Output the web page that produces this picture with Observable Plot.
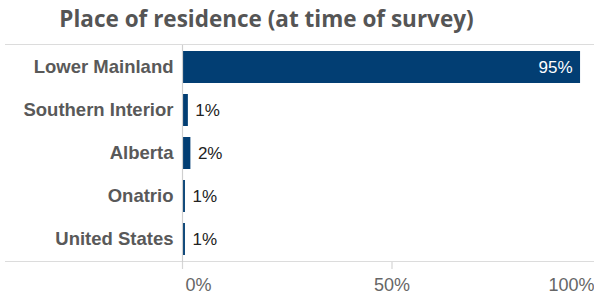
<!DOCTYPE html>
<html>
<head>
<meta charset="utf-8">
<script src="https://cdn.jsdelivr.net/npm/d3@7"></script>
<script src="https://cdn.jsdelivr.net/npm/@observablehq/plot@0.6"></script>
<style>
  html, body { margin: 0; padding: 0; background: white; }
  #wrap { position: relative; width: 594px; height: 295px; overflow: hidden; }
  #title { position: absolute; left: 0; width: 533px; text-align: center;
    font-family: "Open Sans", sans-serif; font-weight: 700; font-size: 22.5px; color: #555;
    line-height: 36px; top: 1px; }
  #lines { position: absolute; left: 5px; top: 44px; width: 589px; height: 216px;
    border-top: 1px solid #dcdcdc; border-bottom: 1px solid #dcdcdc; }
  #chart { position: absolute; left: 0; top: 45px; }
</style>
</head>
<body>
<div id="wrap">
  <div id="title">Place of residence (at time of survey)</div>
  <div id="lines"></div>
  <div id="chart"></div>
</div>
<script>
const categories = ["Lower Mainland", "Southern Interior", "Alberta", "Onatrio", "United States"];
const shares = [95, 1.4, 2, 0.7, 0.7];
const tickValues = [0, 50, 100];
const tickLabels = ["0%", "50%", "100%"];

const data = categories.map((c, i) => ({category: c, value: shares[i], label: Math.round(shares[i]) + "%"}));
const ticks = tickValues.map((v, i) => ({value: v, label: tickLabels[i]}));

const font = "Liberation Sans, Arial, sans-serif";
const plot = Plot.plot({
  width: 594,
  height: 250,
  marginLeft: 182,
  marginRight: -7,
  marginTop: 0,
  marginBottom: 33,
  style: {fontFamily: font, background: "transparent", overflow: "visible"},
  x: {domain: [0, 100], axis: null, label: null},
  y: {domain: categories, paddingInner: 0.246, paddingOuter: 0.105, label: null},
  marks: [
    Plot.axisY({tickSize: 0, tickPadding: 9, fontSize: 18.5, fontWeight: "bold", fill: "#595959", label: null}),
    Plot.barX(data, {y: "category", x: "value", fill: "#023e73"}),
    Plot.text(data.filter(d => d.value >= 50), {y: "category", x: "value", text: "label", textAnchor: "end", dx: -8, fill: "white", fontSize: 17}),
    Plot.text(data.filter(d => d.value < 50), {y: "category", x: "value", text: "label", textAnchor: "start", dx: 7, fill: "#222", fontSize: 17}),
    Plot.ruleX([0], {stroke: "#cfcfcf", strokeWidth: 1.2}),
    Plot.axisX(tickValues, {tickSize: 7, tickFormat: () => "", stroke: "#d6d6d6", strokeWidth: 1.2, label: null}),
    Plot.text(ticks.filter(d => d.value === 0), {x: "value", text: "label", frameAnchor: "bottom", lineAnchor: "bottom", dy: 28, dx: 3, textAnchor: "start", fill: "#666", fontSize: 18}),
    Plot.text(ticks.filter(d => d.value === 50), {x: "value", text: "label", frameAnchor: "bottom", lineAnchor: "bottom", dy: 28, textAnchor: "middle", fill: "#666", fontSize: 18}),
    Plot.text(ticks.filter(d => d.value === 100), {x: "value", text: "label", frameAnchor: "bottom", lineAnchor: "bottom", dy: 28, dx: -7, textAnchor: "end", fill: "#666", fontSize: 18})
  ]
});
document.getElementById("chart").appendChild(plot);
</script>
</body>
</html>
